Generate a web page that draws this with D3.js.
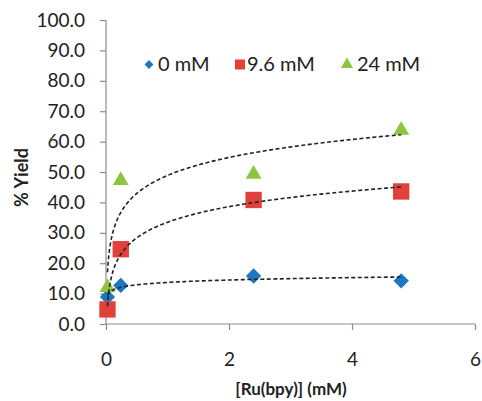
<!DOCTYPE html>
<html>
<head>
<meta charset="utf-8">
<script src="https://cdn.jsdelivr.net/npm/d3@7"></script>
<style>
  body { margin: 0; background: #fff; }
  svg text { font-family: Lato, "Open Sans", sans-serif; fill: #222; }
</style>
</head>
<body>
<svg id="chart" width="482" height="401"></svg>
<script>
// [Ru(bpy)] concentration (mM)
const ruConc = [0.024, 0.24, 2.4, 4.8];
// % yield per series
const yield0 = [8.9, 12.7, 15.8, 14.2];
const yield96 = [4.8, 24.6, 40.8, 43.6];
const yield24 = [12.0, 47.2, 49.3, 63.8];
const seriesNames = ["0 mM", "9.6 mM", "24 mM"];
const yTicks = [0, 10, 20, 30, 40, 50, 60, 70, 80, 90, 100];
const xTicks = [0, 2, 4, 6];

const series = [
  {name: seriesNames[0], values: yield0, color: "#1b77c5", shape: d3.symbolDiamond2, size: 150, legSize: 50},
  {name: seriesNames[1], values: yield96, color: "#e1403b", shape: d3.symbolSquare2, size: 340, legSize: 127},
  {name: seriesNames[2], values: yield24, color: "#8cc63f", shape: d3.symbolTriangle2, size: 180, legSize: 105}
];

let svg = d3.select("#chart");
let x = d3.scaleLinear().domain([0, 6]).range([106, 475]);
let y = d3.scaleLinear().domain([0, 100]).range([324, 20]);

// axes
let yAxis = svg.append("g").attr("transform", "translate(106,0)")
  .call(d3.axisLeft(y).tickValues(yTicks).tickFormat(d3.format(".1f")).tickSize(6).tickPadding(15));
let xAxis = svg.append("g").attr("transform", "translate(0,324)")
  .call(d3.axisBottom(x).tickValues(xTicks).tickFormat(d3.format("d")).tickSize(6).tickPadding(23));
[xAxis, yAxis].forEach(function(a){
  a.selectAll("path, line").attr("stroke", "#8c8c8c").attr("stroke-width", 1.2);
  a.selectAll("text").style("font-size", "19px").attr("fill", "#222");
});
xAxis.select(".domain").attr("d", "M106,0H475");
yAxis.select(".domain").attr("d", "M0,20V324");

// markers
series.forEach(function(s){
  svg.append("g").selectAll("path").data(s.values).enter().append("path")
    .attr("transform", (d, i) => "translate(" + x(ruConc[i]) + "," + y(d) + ")")
    .attr("d", d3.symbol().type(s.shape).size(s.size))
    .attr("fill", s.color);
});

// log trendlines (least squares fit on ln x), drawn over the markers
function logFit(xs, ys){
  let lx = xs.map(Math.log);
  let mx = d3.mean(lx), my = d3.mean(ys);
  let a = d3.sum(lx, (v, i) => (v - mx) * (ys[i] - my)) / d3.sum(lx, v => (v - mx) * (v - mx));
  return v => my + a * (Math.log(v) - mx);
}
let line = d3.line().x(d => x(d[0])).y(d => y(d[1]));
series.forEach(function(s){
  let f = logFit(ruConc, s.values);
  let lo = d3.min(ruConc), hi = d3.max(ruConc);
  let pts = d3.range(0, 201).map(i => lo * Math.pow(hi / lo, i / 200)).map(v => [v, f(v)]);
  svg.append("path").attr("d", line(pts)).attr("fill", "none")
    .attr("stroke", "#222").attr("stroke-width", 1.6).attr("stroke-dasharray", "4,2.5");
});

// legend
let legX = [149, 240, 347];
let legText = [158, 247, 357];
series.forEach(function(s, i){
  svg.append("path").attr("transform", "translate(" + legX[i] + ",64.5)")
    .attr("d", d3.symbol().type(s.shape).size(s.legSize)).attr("fill", s.color);
  svg.append("text").attr("x", legText[i]).attr("y", 71).style("font-size", "20px").text(s.name);
});

// axis titles
svg.append("text").attr("transform", "translate(28,177.5) rotate(-90)")
  .attr("text-anchor", "middle").style("font-size", "18px").style("font-weight", "bold").text("% Yield");
svg.append("text").attr("x", 291).attr("y", 395)
  .attr("text-anchor", "middle").style("font-size", "17px").style("font-weight", "bold").text("[Ru(bpy)] (mM)");
</script>
</body>
</html>
